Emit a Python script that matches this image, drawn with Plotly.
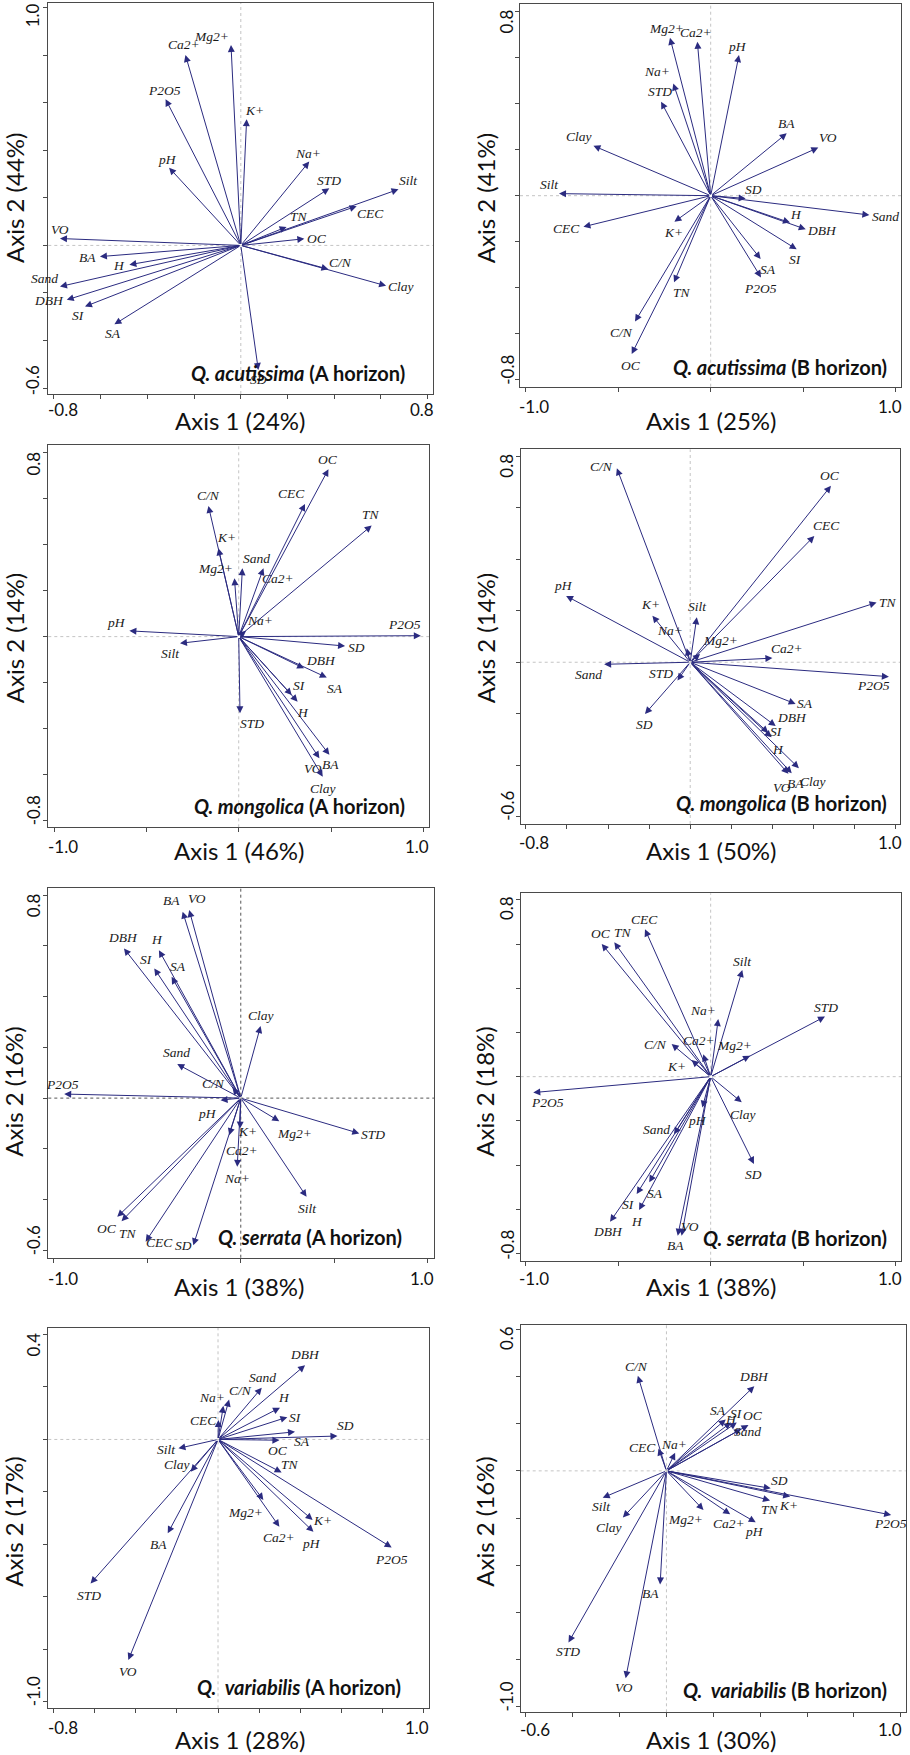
import numpy as np
import plotly.graph_objects as go

# ---------------- data ----------------
VARS = ["BA", "VO", "DBH", "H", "SI", "SA", "SD", "STD", "Sand", "Silt", "Clay",
        "pH", "OC", "TN", "C/N", "P2O5", "K+", "Ca2+", "Mg2+", "Na+", "CEC"]

ACU_A_X = [-0.603, -0.774, -0.745, -0.477, -0.667, -0.541, 0.075, 0.379, -0.774, 0.675, 0.622,
           -0.307, 0.272, 0.196, 0.375, -0.322, 0.025, -0.237, -0.042, 0.293, 0.496]
ACU_A_Y = [-0.047, 0.029, -0.229, -0.081, -0.257, -0.332, -0.524, 0.240, -0.173, 0.236, -0.170,
           0.327, 0.028, 0.078, -0.100, 0.615, 0.531, 0.801, 0.843, 0.353, 0.165]

ACU_B_X = [0.411, 0.582, 0.514, 0.429, 0.465, 0.270, 0.189, -0.268, 0.858, -0.820, -0.634,
           0.153, -0.427, -0.198, -0.409, 0.272, -0.196, -0.072, -0.220, -0.202, -0.688]
ACU_B_Y = [0.271, 0.209, -0.146, -0.117, -0.233, -0.275, -0.012, 0.408, -0.084, 0.009, 0.217,
           0.611, -0.688, -0.376, -0.547, -0.355, -0.113, 0.669, 0.686, 0.488, -0.135]

MON_A_X = [0.491, 0.437, 0.354, 0.319, 0.287, 0.477, 0.576, 0.007, 0.020, -0.318, 0.455,
           -0.592, 0.486, 0.720, -0.164, 0.986, -0.110, 0.134, -0.023, 0.040, 0.359]
MON_A_Y = [-0.514, -0.529, -0.138, -0.283, -0.254, -0.178, -0.041, -0.333, 0.297, -0.029, -0.609,
           0.025, 0.728, 0.483, 0.568, 0.004, 0.384, 0.297, 0.254, 0.025, 0.577]

MON_B_X = [0.494, 0.478, 0.416, 0.396, 0.380, 0.513, -0.220, -0.062, -0.419, 0.032, 0.529,
           -0.604, 0.685, 0.907, -0.357, 0.967, -0.184, 0.400, 0.048, -0.017, 0.604]
MON_B_Y = [-0.432, -0.434, -0.248, -0.292, -0.274, -0.162, -0.201, -0.071, -0.008, 0.175, -0.412,
           0.258, 0.686, 0.232, 0.754, -0.056, 0.181, 0.016, 0.032, 0.054, 0.491]

SER_A_X = [-0.311, -0.276, -0.625, -0.438, -0.463, -0.370, -0.254, 0.634, -0.340, 0.352, 0.106,
           -0.108, -0.661, -0.638, -0.044, -0.945, -0.004, -0.062, 0.206, -0.019, -0.509]
SER_A_Y = [0.735, 0.741, 0.590, 0.583, 0.511, 0.478, -0.580, -0.139, 0.134, -0.389, 0.284,
           -0.008, -0.468, -0.485, 0.041, 0.016, -0.120, -0.146, -0.091, -0.271, -0.566]

SER_B_X = [-0.178, -0.157, -0.544, -0.387, -0.400, -0.332, 0.234, 0.618, -0.198, 0.171, 0.168,
           -0.045, -0.589, -0.521, -0.211, -0.959, -0.103, -0.040, 0.213, 0.041, -0.355]
SER_B_Y = [-0.720, -0.720, -0.657, -0.604, -0.531, -0.478, -0.395, 0.272, -0.261, 0.483, -0.116,
           -0.140, 0.601, 0.608, 0.148, -0.072, 0.075, 0.101, 0.095, 0.261, 0.667]

VAR_A_X = [-0.245, -0.437, 0.424, 0.302, 0.338, 0.375, 0.582, -0.621, 0.213, -0.193, -0.133,
           0.465, 0.299, 0.310, 0.054, 0.846, 0.461, 0.299, 0.221, 0.026, 0.002]
VAR_A_Y = [-0.358, -0.841, 0.283, 0.121, 0.085, 0.029, 0.013, -0.549, 0.197, -0.034, -0.123,
           -0.352, -0.003, -0.126, 0.152, -0.412, -0.307, -0.333, -0.231, 0.128, 0.074]

VAR_B_X = [-0.027, -0.174, 0.375, 0.276, 0.300, 0.253, 0.445, -0.418, 0.319, -0.272, -0.186,
           0.381, 0.350, 0.442, -0.122, 0.959, 0.528, 0.272, 0.158, 0.037, -0.034]
VAR_B_Y = [-0.481, -0.879, 0.359, 0.205, 0.205, 0.218, -0.074, -0.727, 0.177, -0.114, -0.198,
           -0.218, 0.194, -0.126, 0.403, -0.187, -0.109, -0.184, -0.166, 0.077, 0.095]

SPECIES = ["Q. acutissima", "Q. acutissima", "Q. mongolica", "Q. mongolica",
           "Q. serrata", "Q. serrata", "Q.\u00a0 variabilis", "Q.\u00a0 variabilis"]
HORIZONS = ["A", "B", "A", "B", "A", "B", "A", "B"]
AXIS1_PCT = [24, 25, 46, 50, 38, 38, 28, 30]
AXIS2_PCT = [44, 41, 14, 14, 16, 18, 17, 16]
X_TICK_LABELS = [["-0.8", "0.8"], ["-1.0", "1.0"], ["-1.0", "1.0"], ["-0.8", "1.0"],
                 ["-1.0", "1.0"], ["-1.0", "1.0"], ["-0.8", "1.0"], ["-0.6", "1.0"]]
Y_TICK_LABELS = [["-0.6", "1.0"], ["-0.8", "0.8"], ["-0.8", "0.8"], ["-0.6", "0.8"],
                 ["-0.6", "0.8"], ["-0.8", "0.8"], ["-1.0", "0.4"], ["-1.0", "0.6"]]

PANEL_X = [ACU_A_X, ACU_B_X, MON_A_X, MON_B_X, SER_A_X, SER_B_X, VAR_A_X, VAR_B_X]
PANEL_Y = [ACU_A_Y, ACU_B_Y, MON_A_Y, MON_B_Y, SER_A_Y, SER_B_Y, VAR_A_Y, VAR_B_Y]

# ---------------- layout / style (pixels) ----------------
W, H = 910, 1755
# frame boxes: left, right, top, bottom (px)
BOX = [(48.3, 433.3, 2.7, 394.0), (520.0, 901.0, 4.0, 386.7),
       (48.3, 429.3, 445.0, 827.3), (520.7, 900.0, 449.3, 824.0),
       (48.3, 434.0, 888.3, 1257.7), (520.7, 901.0, 893.3, 1260.7),
       (48.3, 429.0, 1327.7, 1708.3), (520.7, 905.7, 1325.0, 1712.3)]
XR = [(-0.824, 0.824), (-1.031, 1.029), (-1.031, 1.032), (-0.825, 1.021),
      (-1.030, 1.034), (-1.027, 1.029), (-0.827, 1.028), (-0.622, 1.021)]
YR = [(-0.625, 1.021), (-0.830, 0.833), (-0.829, 0.833), (-0.629, 0.828),
      (-0.629, 0.827), (-0.833, 0.830), (-1.025, 0.426), (-1.023, 0.618)]
X_STEP = [0.2, 0.5, 0.5, 0.2, 0.5, 0.5, 0.2, 0.2]
Y_STEP = [0.2] * 8

LBL_OFF = [
    [(-12.7, -0.7), (0, 8.7), (-17.3, -1), (-10.7, -1), (-6.7, -9), (-1, -9), (0, -10), (0, 8.3),
     (-15.7, 8), (10, 9.3), (14.7, -0.7), (-1.7, 8.3), (12.3, 0.3), (12.7, 10.3), (11.7, 6.7),
     (-0.7, 8.7), (8.3, 8.3), (-1, 10.7), (-19.3, 9), (-1, 7.7), (14, -7.3)],
    [(-0.7, 10), (9.3, 10), (16, -1.3), (5.7, 7.7), (-1, -10), (7.7, -10.3), (8.3, 9.3), (-1, 10),
     (15.7, -1), (-9.7, 8.7), (-14, 9), (-1.3, 8.3), (-1, -11), (7.7, -10.3), (-13.3, -10.7),
     (0, -11.3), (-1, -10.7), (-1.7, 9.3), (-3.3, 9.3), (-16.7, 11.7), (-16.7, -1.7)],
    [(0.7, -10), (-6.7, -10.7), (16.7, 8.3), (5, -10.7), (7.7, 9.3), (7.7, -11.3), (11, -1.3),
     (12.3, -10.7), (13.7, 10), (-9.3, -10.7), (0.7, -11.7), (-12.7, 8.3), (0, 10), (-1, 10.7),
     (0, 10), (-16.7, 11.3), (8.3, 11), (15, -10.7), (-19.3, 10), (14, 10.3), (-13.3, 10)],
    [(3.3, -10), (-6.7, -13.3), (16, 8.7), (6, -11.7), (8.3, 1), (9.3, 0), (-1, -11), (-16.7, 7.3),
     (-15.7, -10), (0.7, 10.7), (14.3, -13.3), (-2.7, 10), (-1, 10), (11, 0), (-15.7, 1.7),
     (-15.7, -9.3), (-2.3, 10.7), (14.3, 10), (20, 13.3), (-16.7, 18.3), (12.3, 10.3)],
    [(-11, 10.7), (8, 11.7), (-1.3, 10.7), (-1.7, 11), (-7.7, 9), (6, 10), (-10, -0.7), (14, -1),
     (-0.7, 11.3), (0.7, -11.7), (0, 10.3), (-13.3, -13.3), (-10.7, -11.7), (6.7, -12.3),
     (-19.3, 4.3), (-1.7, 10), (7.3, -2.7), (13, -15), (15.7, -12.3), (0, -11.7), (13.7, -1)],
    [(-2, -9.3), (8.3, 9), (-2.3, -10), (-1.7, -11), (-7.7, -11), (5.7, -11), (0, -10.3), (1, 9),
     (-17.3, 5), (0, 8.3), (1.7, -11.7), (-4.7, -13.3), (-1, 10), (9, 10), (-15.7, -1),
     (14.3, -9.7), (-15, -6.7), (-4, 13.7), (-16, 9.7), (-15, 9), (-1, 10)],
    [(-9.3, -10.7), (-0.7, -11), (0, 10.7), (4.3, 10), (7.7, 0), (6.7, -10), (7.7, 10.3),
     (-1.3, -11.7), (0.7, 10), (-12.3, -0.7), (-14, 7.3), (-1.7, -11.7), (-1, -10.7), (8.3, 8.3),
     (11, 9.3), (0, -11.7), (10, -1), (0, -11), (-18.3, -12.3), (-11.7, 8), (-15, -0.7)],
    [(-10, -9), (-1.3, -9), (-0.3, 9.3), (0, 3.3), (0, 9), (-7.3, 9.3), (8.3, 7.7), (-0.7, -9.3),
     (6.3, -2.7), (-1, -9), (-14.3, -9.7), (-1.3, -9.3), (4.3, 9.3), (0, -8.7), (-1, 9.7),
     (-1, -9), (-1.7, -9), (-1, -9), (-18.3, -9), (-1, 7.7), (-16, 0.7)],
]

# text positions (px)
TITLE_POS = [(407.3, 373.3), (889, 366.7), (406.7, 806), (889, 802.7),
             (404.3, 1236.7), (889, 1237.7), (402.7, 1686.7), (889, 1690)]
AX1_POS = [(240, 420.7), (711, 420.7), (239.3, 850.7), (711, 850.7),
           (239.3, 1286.7), (711, 1286.7), (240, 1739), (711, 1739)]
AX2_POS = [(14, 198), (485, 198.3), (14, 638.3), (485, 638.3),
           (14, 1091.7), (485, 1091.7), (14, 1521.7), (485, 1521.7)]
XT_POS = [[(63.3, 409.3), (421.7, 409.3)], [(534.3, 406), (890, 406)],
          [(62.7, 846.7), (417.3, 846.7)], [(534.3, 842.7), (890, 842.7)],
          [(62.7, 1278.3), (421.7, 1278.3)], [(534.3, 1278.3), (890, 1278.3)],
          [(62.7, 1727.7), (417.3, 1727.7)], [(535, 1729), (890, 1729)]]
YT_POS = [[(33.3, 380), (33.3, 15)], [(506.7, 370), (506.7, 21.7)],
          [(33.3, 810), (33.3, 463.3)], [(506.7, 806), (506.7, 466)],
          [(33.3, 1240), (33.3, 905)], [(506.7, 1245), (506.7, 908.3)],
          [(33.3, 1691), (33.3, 1344.3)], [(506.7, 1696.7), (506.7, 1338.3)]]

ARROW = "#2b2b80"
FRAME = "#4a4a4a"
SANS = "Lato"
SERIF = "Liberation Serif"


def px(xp):
    return xp / W


def py(yp):
    return 1 - yp / H


fig = go.Figure()
annotations = []
shapes = []
layout_axes = {}

for p in range(8):
    sfx = "" if p == 0 else str(p + 1)
    xa, ya = "x" + sfx, "y" + sfx
    L, R, T, B = BOX[p]
    x0t, x1t = float(X_TICK_LABELS[p][0]), float(X_TICK_LABELS[p][1])
    y0t, y1t = float(Y_TICK_LABELS[p][0]), float(Y_TICK_LABELS[p][1])
    xt = np.round(np.arange(x0t, x1t + 1e-9, X_STEP[p]), 3).tolist()
    yt = np.round(np.arange(y0t, y1t + 1e-9, Y_STEP[p]), 3).tolist()
    common = dict(showgrid=False, zeroline=False, showline=True, mirror=True,
                  linecolor=FRAME, linewidth=1, ticks="outside", ticklen=4,
                  tickcolor=FRAME, tickwidth=1, showticklabels=False, fixedrange=True)
    layout_axes["xaxis" + sfx] = dict(domain=[px(L), px(R)], range=list(XR[p]),
                                      anchor=ya, tickvals=xt, **common)
    layout_axes["yaxis" + sfx] = dict(domain=[py(B), py(T)], range=list(YR[p]),
                                      anchor=xa, tickvals=yt, **common)

    X, Y = PANEL_X[p], PANEL_Y[p]
    fig.add_trace(go.Scatter(x=X, y=Y, mode="markers", xaxis=xa, yaxis=ya,
                             marker=dict(size=1, opacity=0), hoverinfo="skip",
                             showlegend=False))

    # crosshair
    ccol, cdash = ("#555555", "dot") if p == 4 else ("#c4c4c4", "dot")
    shapes.append(dict(type="line", xref=xa, yref=ya + " domain", x0=0, x1=0, y0=0, y1=1,
                       line=dict(color=ccol, width=1, dash=cdash), layer="below"))
    shapes.append(dict(type="line", xref=xa + " domain", yref=ya, x0=0, x1=1, y0=0, y1=0,
                       line=dict(color=ccol, width=1, dash=cdash), layer="below"))

    for i, v in enumerate(VARS):
        annotations.append(dict(x=X[i], y=Y[i], ax=0, ay=0, xref=xa, yref=ya,
                                axref=xa, ayref=ya, text="", showarrow=True,
                                arrowhead=2, arrowsize=1.4, arrowwidth=1,
                                arrowcolor=ARROW, standoff=0, startstandoff=0))
        dx, dy = LBL_OFF[p][i]
        annotations.append(dict(x=X[i], y=Y[i], xref=xa, yref=ya, text="<i>%s</i>" % v,
                                showarrow=False, xshift=dx, yshift=dy,
                                xanchor="center", yanchor="middle",
                                font=dict(family=SERIF, size=13.5, color="#1a1a1a")))

    # panel title
    tx, ty = TITLE_POS[p]
    annotations.append(dict(x=px(tx), y=py(ty), xref="paper", yref="paper",
                            xanchor="right", yanchor="middle", showarrow=False,
                            text="<b><i>%s</i> (%s horizon)</b>" % (SPECIES[p], HORIZONS[p]),
                            font=dict(family=SANS, size=20, color="#111111")))
    # axis titles
    ax1x, ax1y = AX1_POS[p]
    annotations.append(dict(x=px(ax1x), y=py(ax1y), xref="paper", yref="paper",
                            xanchor="center", yanchor="middle", showarrow=False,
                            text="Axis 1 (%d%%)" % AXIS1_PCT[p],
                            font=dict(family=SANS, size=24, color="#111111")))
    ax2x, ax2y = AX2_POS[p]
    annotations.append(dict(x=px(ax2x), y=py(ax2y), xref="paper", yref="paper",
                            xanchor="center", yanchor="middle", showarrow=False,
                            textangle=-90, text="Axis 2 (%d%%)" % AXIS2_PCT[p],
                            font=dict(family=SANS, size=24, color="#111111")))
    # tick labels
    for k in range(2):
        qx, qy = XT_POS[p][k]
        annotations.append(dict(x=px(qx), y=py(qy), xref="paper", yref="paper",
                                xanchor="center", yanchor="middle", showarrow=False,
                                text=X_TICK_LABELS[p][k],
                                font=dict(family=SANS, size=17, color="#111111")))
        qx, qy = YT_POS[p][k]
        annotations.append(dict(x=px(qx), y=py(qy), xref="paper", yref="paper",
                                xanchor="center", yanchor="middle", showarrow=False,
                                textangle=-90, text=Y_TICK_LABELS[p][k],
                                font=dict(family=SANS, size=17, color="#111111")))

fig.update_layout(width=W, height=H, autosize=False,
                  margin=dict(l=0, r=0, t=0, b=0),
                  paper_bgcolor="white", plot_bgcolor="white",
                  showlegend=False, annotations=annotations, shapes=shapes,
                  **layout_axes)

fig.write_html("out.html")
